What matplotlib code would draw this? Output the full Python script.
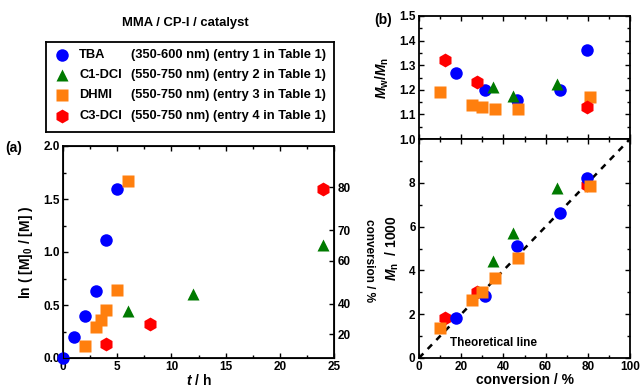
import numpy as np
import matplotlib
matplotlib.use('Agg')
import matplotlib.pyplot as plt
from matplotlib.ticker import MultipleLocator, NullFormatter

plt.rcParams['font.family'] = ['Liberation Sans', 'DejaVu Sans']
plt.rcParams['font.weight'] = 'bold'
plt.rcParams['mathtext.fontset'] = 'custom'
plt.rcParams['mathtext.it'] = 'Liberation Sans:italic:bold'
plt.rcParams['mathtext.rm'] = 'Liberation Sans:bold'

# ---- data ----
names = ['TBA', 'C1-DCI', 'DHMI', 'C3-DCI']
details = ['(350-600 nm) (entry 1 in Table 1)',
           '(550-750 nm) (entry 2 in Table 1)',
           '(550-750 nm) (entry 3 in Table 1)',
           '(550-750 nm) (entry 4 in Table 1)']

# (a) ln([M]0/[M]) vs time
t_tba = [0, 1, 2, 3, 4, 5]
ln_tba = [0.0, 0.195, 0.40, 0.63, 1.11, 1.59]
t_c1 = [6, 12, 24]
ln_c1 = [0.44, 0.60, 1.07]
t_dhmi = [2, 3, 3.5, 4, 5, 6]
ln_dhmi = [0.11, 0.29, 0.36, 0.45, 0.64, 1.67]
t_c3 = [4, 8, 24]
ln_c3 = [0.135, 0.32, 1.59]
conv_ticks = [20, 40, 60, 70, 80]

# (b) Mw/Mn and Mn vs conversion
conv_tba = [17.7, 31.4, 46.4, 67.0, 79.6]
pdi_tba = [1.27, 1.20, 1.16, 1.20, 1.36]
mn_tba = [1.81, 2.81, 5.10, 6.60, 8.24]
conv_c1 = [35.0, 44.7, 65.2]
pdi_c1 = [1.21, 1.175, 1.225]
mn_c1 = [4.42, 5.72, 7.78]
conv_dhmi = [10.0, 25.1, 29.7, 36.2, 47.0, 81.0]
pdi_dhmi = [1.19, 1.14, 1.13, 1.12, 1.12, 1.17]
mn_dhmi = [1.39, 2.66, 3.0, 3.65, 4.56, 7.85]
conv_c3 = [12.5, 27.5, 79.6]
pdi_c3 = [1.32, 1.23, 1.13]
mn_c3 = [1.84, 3.02, 7.89]
theory_conv = [0, 100]
theory_mn = [0, 10]

colors = ['#0000ff', '#007a00', '#ff7f0e', '#ff0000']
markers = ['o', '^', 's', 'h']
sizes = [9, 9, 8, 10]

fig = plt.figure(figsize=(6.4, 3.92), dpi=100)
W, H = 640, 392


def box(l, t, r, b):
    return [l / W, 1 - b / H, (r - l) / W, (b - t) / H]


def style(ax):
    ax.tick_params(which='both', direction='in', top=True, right=True,
                   labelsize=8.5, width=1.0, pad=2.5)
    ax.tick_params(which='major', length=3.5)
    ax.tick_params(which='minor', length=2)
    for s in ax.spines.values():
        s.set_linewidth(1.3)
    for lab in ax.get_xticklabels() + ax.get_yticklabels():
        lab.set_fontweight('bold')


# ---- panel (a) ----
ax_a = fig.add_axes(box(63, 146, 334, 358))
series_a = [(t_tba, ln_tba), (t_c1, ln_c1), (t_dhmi, ln_dhmi), (t_c3, ln_c3)]
for (x, y), c, m, s in zip(series_a, colors, markers, sizes):
    ax_a.plot(x, y, m, color=c, ms=s, mec='none', clip_on=False, zorder=3)
ax_a.set_xlim(0, 25)
ax_a.set_ylim(0, 2.0)
ax_a.xaxis.set_major_locator(MultipleLocator(5))
ax_a.xaxis.set_minor_locator(MultipleLocator(2.5))
ax_a.yaxis.set_major_locator(MultipleLocator(0.5))
ax_a.yaxis.set_minor_locator(MultipleLocator(0.25))
style(ax_a)
ax_a.tick_params(right=False, which='both')
ax_a.set_xlabel('$t$ / h', fontsize=10, fontweight='bold', labelpad=0)
ax_a.set_ylabel('ln ( [M]$_0$ / [M] )', fontsize=10, fontweight='bold', labelpad=6)

ax_c = ax_a.twinx()
ax_c.set_ylim(0, 2.0)
ax_c.set_yticks([-np.log(1 - c / 100) for c in conv_ticks])
ax_c.set_yticklabels([str(c) for c in conv_ticks])
ax_c.tick_params(direction='in', labelsize=8.5, length=3.5, width=1.0, pad=2.5)
for lab in ax_c.get_yticklabels():
    lab.set_fontweight('bold')
ax_c.set_ylabel('conversion / %', rotation=270, fontsize=8.5,
                fontweight='bold', va='center')
ax_c.yaxis.set_label_coords(1.13, 0.46)
fig.text(5 / W, 1 - 152 / H, '(a)', fontsize=10, fontweight='bold')

# ---- panel (b) top: Mw/Mn ----
ax_b1 = fig.add_axes(box(419, 16, 630, 139))
series_pdi = [(conv_tba, pdi_tba), (conv_c1, pdi_c1),
              (conv_dhmi, pdi_dhmi), (conv_c3, pdi_c3)]
for (x, y), c, m, s in zip(series_pdi, colors, markers, sizes):
    ax_b1.plot(x, y, m, color=c, ms=s, mec='none', zorder=3)
ax_b1.set_xlim(0, 100)
ax_b1.set_ylim(1.0, 1.5)
ax_b1.xaxis.set_major_locator(MultipleLocator(20))
ax_b1.xaxis.set_minor_locator(MultipleLocator(10))
ax_b1.yaxis.set_major_locator(MultipleLocator(0.1))
ax_b1.yaxis.set_minor_locator(MultipleLocator(0.05))
ax_b1.xaxis.set_major_formatter(NullFormatter())
style(ax_b1)
ax_b1.set_ylabel('$M_{\\rm w}$/$M_{\\rm n}$', fontsize=10, fontweight='bold', labelpad=6)
fig.text(374 / W, 1 - 24 / H, '(b)', fontsize=10, fontweight='bold')

# ---- panel (b) bottom: Mn ----
ax_b2 = fig.add_axes(box(419, 139, 630, 358))
ax_b2.plot(theory_conv, theory_mn, '--', color='black', lw=1.8, dashes=(2.5, 2.5), zorder=2)
series_mn = [(conv_tba, mn_tba), (conv_c1, mn_c1),
             (conv_dhmi, mn_dhmi), (conv_c3, mn_c3)]
order = [3, 0, 1, 2]
for i in order:
    x, y = series_mn[i]
    ax_b2.plot(x, y, markers[i], color=colors[i], ms=sizes[i], mec='none', zorder=3)
ax_b2.set_xlim(0, 100)
ax_b2.set_ylim(0, 10)
ax_b2.xaxis.set_major_locator(MultipleLocator(20))
ax_b2.xaxis.set_minor_locator(MultipleLocator(10))
ax_b2.set_yticks([0, 2, 4, 6, 8])
ax_b2.yaxis.set_minor_locator(MultipleLocator(1))
style(ax_b2)
ax_b2.set_xlabel('conversion / %', fontsize=10, fontweight='bold', labelpad=0)
ax_b2.set_ylabel('$M_{\\rm n}$  / 1000', fontsize=10, fontweight='bold', labelpad=6)
ax_b2.text(0.145, 0.055, 'Theoretical line', transform=ax_b2.transAxes,
           fontsize=8.5, fontweight='bold')

# ---- legend box ----
fig.text(185 / W, 1 - 23 / H, 'MMA / CP-I / catalyst', ha='center', va='center',
         fontsize=9.4, fontweight='bold')
ax_l = fig.add_axes(box(46, 42, 334, 132))
ax_l.set_xlim(0, 1)
ax_l.set_ylim(0, 1)
ax_l.set_xticks([])
ax_l.set_yticks([])
for s in ax_l.spines.values():
    s.set_linewidth(1.3)
rows = [0.86, 0.63, 0.41, 0.18]
for ry, c, m, s, nm, dt in zip(rows, colors, markers, sizes, names, details):
    ax_l.plot([0.056], [ry], m, color=c, ms=s, mec='none')
    ax_l.text(0.115, ry, nm, va='center', fontsize=9.3, fontweight='bold')
    ax_l.text(0.295, ry, dt, va='center', fontsize=9.3, fontweight='bold')

fig.savefig('out.png', dpi=100)
